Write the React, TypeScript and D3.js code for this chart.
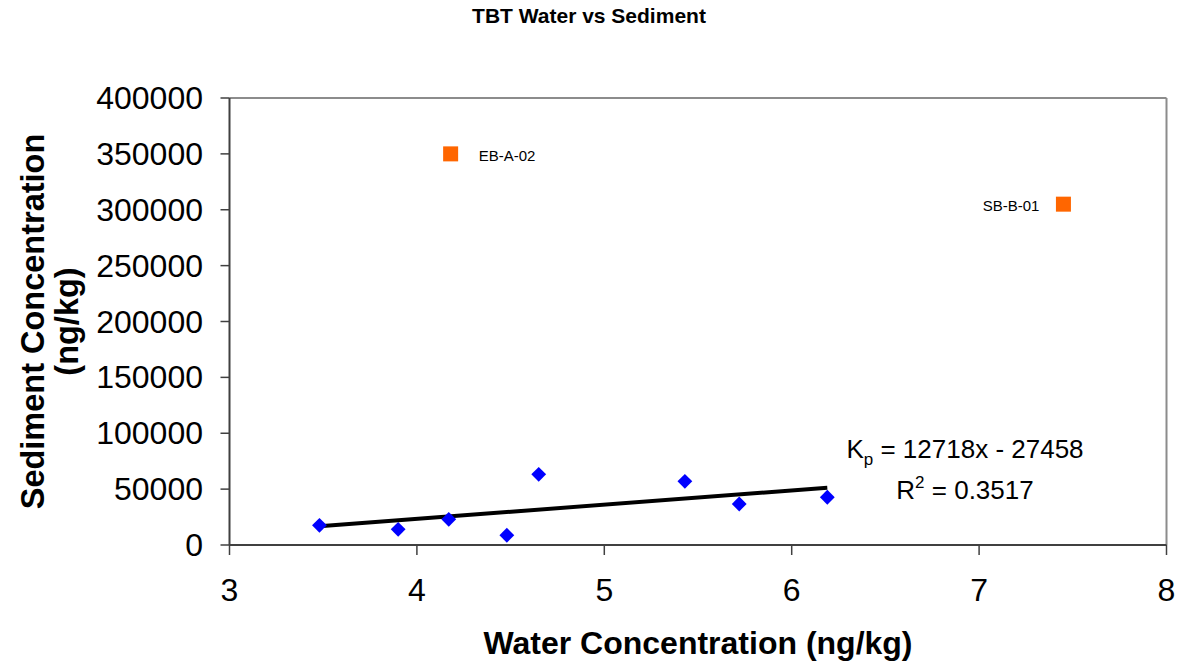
import React from "react";
import * as d3 from "d3";

const W = 1182;
const H = 664;

const waterX = [3.48, 3.9, 4.17, 4.48, 4.65, 5.43, 5.72, 6.19];
const sedimentY = [17600, 14000, 23000, 8700, 63200, 57000, 36700, 42700];

const outlierNames = ["EB-A-02", "SB-B-01"];
const outlierX = [4.18, 7.45];
const outlierY = [350000, 305000];

const xTicks = [3, 4, 5, 6, 7, 8];
const yTicks = [0, 50000, 100000, 150000, 200000, 250000, 300000, 350000, 400000];

const slope = 12718;
const intercept = -27458;
const rSquared = "0.3517";

const FONT = "Arial, 'Liberation Sans', Helvetica, sans-serif";

export default function App() {
  const left = 229.5, right = 1166.5, top = 98, bottom = 545;
  const x = d3.scaleLinear().domain([3, 8]).range([left, right]);
  const y = d3.scaleLinear().domain([0, 400000]).range([bottom, top]);

  const xMin = d3.min(waterX) as number;
  const xMax = d3.max(waterX) as number;
  const line = d3.line<number>().x((d) => x(d)).y((d) => y(slope * d + intercept));
  const diamond = d3.symbol().type(d3.symbolDiamond2).size(140);

  return (
    <svg width={W} height={H} style={{ position: "absolute", left: 0, top: 0, background: "#fff" }} fontFamily={FONT}>
      <text x={589} y={23} textAnchor="middle" fontSize={21} fontWeight="bold">TBT Water vs Sediment</text>

      {/* plot frame */}
      <line x1={left} y1={top} x2={right} y2={top} stroke="#8c8c8c" strokeWidth={2} />
      <line x1={right} y1={top} x2={right} y2={bottom} stroke="#8c8c8c" strokeWidth={2} />
      <line x1={left} y1={top} x2={left} y2={bottom} stroke="#404040" strokeWidth={2} />
      <line x1={left} y1={bottom} x2={right} y2={bottom} stroke="#404040" strokeWidth={2} />

      {yTicks.map((t) => (
        <g key={"y" + t}>
          <line x1={left - 9} x2={left} y1={y(t)} y2={y(t)} stroke="#404040" strokeWidth={1.5} />
          <text x={203} y={y(t) + 11} textAnchor="end" fontSize={32}>{t}</text>
        </g>
      ))}
      {xTicks.map((t) => (
        <g key={"x" + t}>
          <line x1={x(t)} x2={x(t)} y1={bottom} y2={bottom + 10} stroke="#404040" strokeWidth={1.5} />
          <text x={x(t)} y={601} textAnchor="middle" fontSize={32}>{t}</text>
        </g>
      ))}

      <text x={698} y={654} textAnchor="middle" fontSize={32} fontWeight="bold">Water Concentration (ng/kg)</text>
      <g transform={`translate(44, ${(top + bottom) / 2}) rotate(-90)`}>
        <text x={0} y={0} textAnchor="middle" fontSize={32.5} fontWeight="bold">Sediment Concentration</text>
      </g>
      <g transform={`translate(78, ${(top + bottom) / 2}) rotate(-90)`}>
        <text x={0} y={0} textAnchor="middle" fontSize={32.5} fontWeight="bold">(ng/kg)</text>
      </g>

      <path d={line([xMin, xMax]) as string} stroke="#000" strokeWidth={4} fill="none" />

      {waterX.map((v, i) => (
        <path key={"p" + i} d={diamond() as string} transform={`translate(${x(v)},${y(sedimentY[i])})`} fill="#0000ff" />
      ))}

      {outlierNames.map((n, i) => (
        <g key={n}>
          <rect x={x(outlierX[i]) - 7.5} y={y(outlierY[i]) - 7.5} width={15} height={15} fill="#ff6600" />
          <text
            x={i === 0 ? x(outlierX[i]) + 28 : x(outlierX[i]) - 24}
            y={y(outlierY[i]) + 7}
            textAnchor={i === 0 ? "start" : "end"}
            fontSize={15}
          >
            {n}
          </text>
        </g>
      ))}

      <text x={965} y={458} textAnchor="middle" fontSize={26}>
        K<tspan fontSize={17} dy={7}>p</tspan>
        <tspan dy={-7}>{` = ${slope}x - ${Math.abs(intercept)}`}</tspan>
      </text>
      <text x={965} y={499} textAnchor="middle" fontSize={26}>
        R<tspan fontSize={17} dy={-11}>2</tspan>
        <tspan dy={11}>{` = ${rSquared}`}</tspan>
      </text>
    </svg>
  );
}
